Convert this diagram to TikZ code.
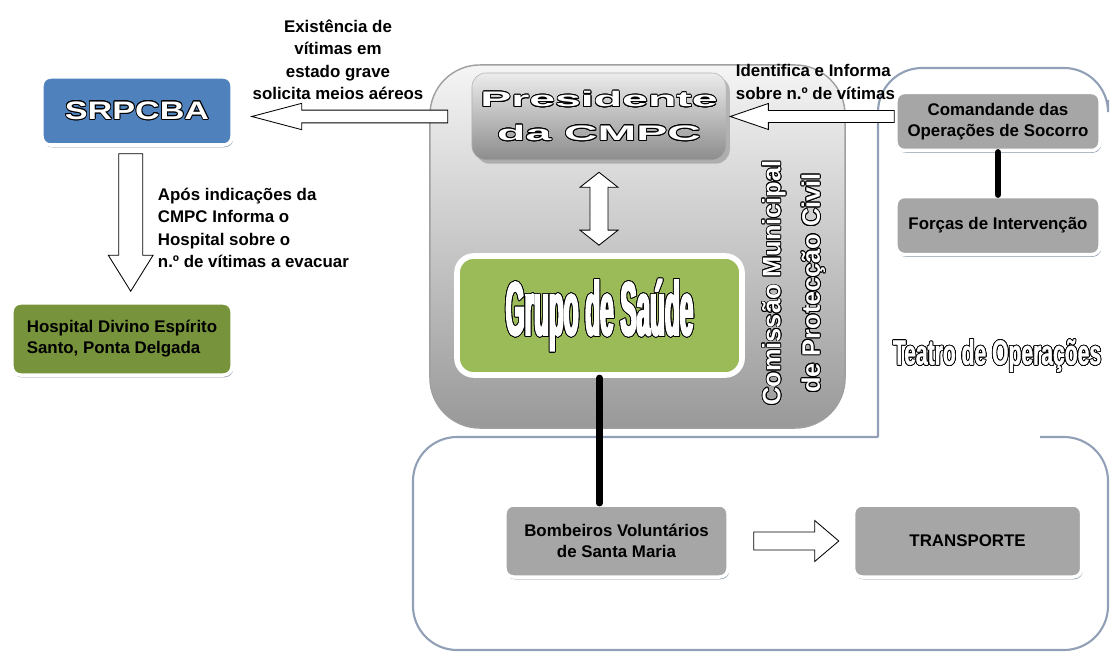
\documentclass[tikz,border=0pt]{standalone}
\usepackage{fontspec}
\setmainfont{Liberation Sans}
\newfontfamily\presfont[FakeStretch=2.2]{Liberation Sans}
\newfontfamily\srpcfont[FakeStretch=1.35]{Liberation Sans}
\newfontfamily\grupofont[FakeStretch=0.32,FakeBold=2.5]{Liberation Sans}
\newfontfamily\teatrofont[FakeStretch=0.6,FakeBold=1]{Liberation Sans}
\usepackage[copies]{contour}
\contourlength{0.6pt}
\usetikzlibrary{calc,positioning,shadows}
\definecolor{azul}{RGB}{79,129,189}
\definecolor{verdeclaro}{RGB}{155,187,89}
\definecolor{verdeoliva}{RGB}{119,147,60}
\definecolor{cinza}{RGB}{166,166,166}
\definecolor{corMoldura}{RGB}{145,160,182}
\definecolor{sombra}{RGB}{110,125,150}

\begin{document}
\begin{tikzpicture}[x=0.025cm, y=-0.025cm, node distance=2.6cm]
            \useasboundingbox (0,0) rectangle (1110,655);

            % Estilos das caixas e setas
            \tikzstyle{caixa} = [rectangle, rounded corners=6pt, minimum width=5.5cm, minimum height=1.8cm, text centered, align=center, draw=white, line width=2.5pt, fill=cinza, font=\bfseries\fontsize{12}{15}\selectfont, drop shadow={shadow xshift=0.8pt, shadow yshift=-1.6pt, fill=sombra, opacity=0.8}]
            \tikzstyle{rotulo} = [align=center, font=\bfseries\fontsize{12}{16}\selectfont]
            \tikzstyle{linha} = [line width=4.5pt, line cap=round]
            \tikzstyle{moldura} = [draw=corMoldura, line width=1.5pt, rounded corners=1.1cm]
            \tikzset{seta/.style n args={5}{draw=black, fill=white, line width=0.6pt, to path={
                coordinate (setaA) at ($(\tikztostart)!#4!(\tikztotarget)$)
                coordinate (setaB) at ($(\tikztotarget)!#5!(\tikztostart)$)
                coordinate (setaC) at ($(setaB)!#3!(setaA)$)
                ($(setaA)!#1!90:(setaB)$) -- ($(setaC)!#1!90:(setaB)$) -- ($(setaC)!#2!90:(setaB)$) -- (setaB)
                -- ($(setaC)!#2!-90:(setaB)$) -- ($(setaC)!#1!-90:(setaB)$) -- ($(setaA)!#1!-90:(setaB)$) -- cycle}},
              setadupla/.style n args={5}{draw=black, fill=white, line width=0.6pt, to path={
                coordinate (setaA) at ($(\tikztostart)!#4!(\tikztotarget)$)
                coordinate (setaB) at ($(\tikztotarget)!#5!(\tikztostart)$)
                coordinate (setaC) at ($(setaB)!#3!(setaA)$)
                coordinate (setaD) at ($(setaA)!#3!(setaB)$)
                (setaA) -- ($(setaD)!#2!90:(setaB)$) -- ($(setaD)!#1!90:(setaB)$) -- ($(setaC)!#1!90:(setaB)$) -- ($(setaC)!#2!90:(setaB)$) -- (setaB)
                -- ($(setaC)!#2!-90:(setaB)$) -- ($(setaC)!#1!-90:(setaB)$) -- ($(setaD)!#1!-90:(setaB)$) -- ($(setaD)!#2!-90:(setaB)$) -- cycle}}}

            % Molduras
            \draw [moldura] (878,437) -- (413,437) -- (413,650) -- (1108,650) -- (1108,437) -- (1040,437);
            \draw [moldura] (878,437) -- (878,68) -- (1108,68) -- (1108,100);

            % Nos do diagrama
            \node (cmpc) [rectangle, rounded corners=1.25cm, minimum width=10.375cm, minimum height=9.075cm, top color=gray!8, bottom color=black!40, draw=gray!75, line width=1pt] at (637.5,246.5) {};
            \node (presid) [rectangle, rounded corners=10pt, minimum width=6.35cm, minimum height=2.175cm, top color=gray!15, bottom color=black!45, draw=gray!60, drop shadow, align=center, text=white, font=\presfont\bfseries\fontsize{15}{24}\selectfont] at (599,116.5) {\contour{black}{Presidente}\\\contour{black}{da CMPC}};
            \node (grupo) [caixa, fill=verdeclaro, line width=4pt, rounded corners=12pt, minimum width=7.125cm, minimum height=2.975cm, text=white, font=\grupofont\bfseries\fontsize{54}{56}\selectfont] at (599.5,315.5) {\contour{black}{Grupo de Saúde}};
            \node (cmpctxt) [rotate=90, align=center, text=white, font=\bfseries\fontsize{18}{28}\selectfont] at (794,283) {\contour{black}{Comissão Municipal}\\\contour{black}{de Protecção Civil}};
            \node (srpcba) [caixa, fill=azul, minimum width=4.75cm, minimum height=1.7cm, text=white, font=\srpcfont\bfseries\fontsize{18}{20}\selectfont] at (137,111) {\contour{black}{SRPCBA}};
            \node (hosp) [caixa, fill=verdeoliva, align=left] at (122,339) {Hospital Divino Espírito\\Santo, Ponta Delgada};
            \node (cmd) [caixa, minimum width=5.1cm, minimum height=1.45cm] at (998,121.5) {Comandande das\\Operações de Socorro};
            \node (forcas) [caixa, minimum width=5.1cm, minimum height=1.45cm, below of=cmd] {Forças de Intervenção};
            \node (teatro) [text=white, font=\teatrofont\bfseries\fontsize{25}{28}\selectfont] at (997,356) {\contour{black}{Teatro de Operações}};
            \node (bomb) [caixa, minimum width=5.575cm] at (616.5,541) {Bombeiros Voluntários\\de Santa Maria};
            \node (transp) [caixa, minimum width=5.7cm, right of=bomb, xshift=6.175cm] {TRANSPORTE};

            % Setas e ligacoes
            \draw [seta={0.16cm}{0.33cm}{1.25cm}{0.6cm}{0.45cm}] (presid.west) to (presid.west -| srpcba.east);
            \draw [seta={0.3cm}{0.56cm}{0.9cm}{0.175cm}{0.25cm}] (srpcba.260) to (srpcba.260 |- hosp.north);
            \draw [setadupla={0.225cm}{0.475cm}{0.375cm}{0.3cm}{0.2cm}] (presid.south) to (presid.south |- grupo.north);
            \draw [seta={0.15cm}{0.325cm}{0.95cm}{0cm}{0.1cm}] (cmd.west |- presid.east) to (presid.east);
            \draw [seta={0.225cm}{0.51cm}{0.6cm}{0.6cm}{0.325cm}] (bomb.east) to (bomb.east -| transp.west);
            \draw [linha] (grupo.south) -- (grupo.south |- bomb.north);
            \draw [linha] (cmd.south) -- (forcas.north);

            % Textos junto das setas
            \node (txtaereo) [rotulo] at (338,60) {Existência de\\vítimas em\\estado grave\\solicita meios aéreos};
            \node (txthosp) [rotulo, align=left, anchor=west] at (153,228) {Após indicações da\\CMPC Informa o\\Hospital sobre o\\n.º de vítimas a evacuar};
            \node (txtident) [rotulo, align=left, anchor=west] at (731,82) {Identifica e Informa\\sobre n.º de vítimas};

\end{tikzpicture}
\end{document}
